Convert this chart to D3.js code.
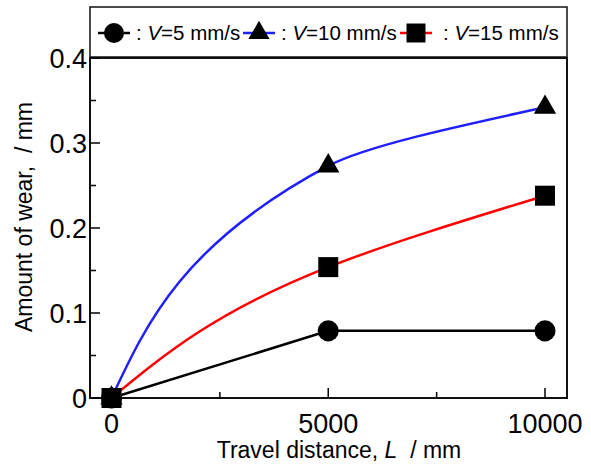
<!DOCTYPE html>
<html>
<head>
<meta charset="utf-8">
<script src="https://cdn.jsdelivr.net/npm/d3@7"></script>
<style>
  body { margin: 0; background: #fff; }
  svg { font-family: "Liberation Sans", Arial, sans-serif; }
  text { white-space: pre; }
</style>
</head>
<body>
<div id="chart"></div>
<script>
const distances = [0, 5000, 10000]
const seriesNames = ['5', '10', '15']
const wearV5 = [0, 0.079, 0.079]
const wearV10 = [0, 0.273, 0.342]
const wearV15 = [0, 0.154, 0.238]
const xTicks = [0, 5000, 10000]
const xMinorTicks = [2500, 7500]
const yTicks = [0, 0.1, 0.2, 0.3, 0.4]
const yMinorTicks = [0.05, 0.15, 0.25, 0.35]

const width = 591
const height = 464
const frame = { left: 90, right: 567, top: 58, bottom: 398 }

const svg = d3.select('#chart')
    .append('svg')
    .attr('width', width)
    .attr('height', height)

const xScale = d3.scaleLinear()
    .domain([0, 10000])
    .range([111.5, 545])

const yScale = d3.scaleLinear()
    .domain([0, 0.4])
    .range([frame.bottom, frame.top])

// smooth curves rise fast and flatten, so interpolate x as a function of y
const series = [
    { name: seriesNames[0], values: wearV5, color: '#000000', symbol: d3.symbolCircle, size: 350, curve: d3.curveLinear },
    { name: seriesNames[1], values: wearV10, color: '#1f1fff', symbol: d3.symbolTriangle, size: 215, curve: d3.curveMonotoneY },
    { name: seriesNames[2], values: wearV15, color: '#ff0000', symbol: d3.symbolSquare, size: 400, curve: d3.curveMonotoneY },
]

// frame
svg.append('rect')
    .attr('x', frame.left)
    .attr('y', frame.top)
    .attr('width', frame.right - frame.left)
    .attr('height', frame.bottom - frame.top)
    .attr('fill', 'none')
    .attr('stroke', '#111')
    .attr('stroke-width', 2)

// ticks (inward)
svg.selectAll('.ytick')
    .data(yTicks)
    .enter().append('line')
    .attr('x1', frame.left).attr('x2', frame.left + 10)
    .attr('y1', d => yScale(d)).attr('y2', d => yScale(d))
    .attr('stroke', '#000').attr('stroke-width', 1.5)

svg.selectAll('.yminor')
    .data(yMinorTicks)
    .enter().append('line')
    .attr('x1', frame.left).attr('x2', frame.left + 6)
    .attr('y1', d => yScale(d)).attr('y2', d => yScale(d))
    .attr('stroke', '#000').attr('stroke-width', 1.5)

svg.selectAll('.xtick')
    .data(xTicks)
    .enter().append('line')
    .attr('x1', d => xScale(d)).attr('x2', d => xScale(d))
    .attr('y1', frame.bottom).attr('y2', frame.bottom - 10)
    .attr('stroke', '#000').attr('stroke-width', 1.5)

svg.selectAll('.xminor')
    .data(xMinorTicks)
    .enter().append('line')
    .attr('x1', d => xScale(d)).attr('x2', d => xScale(d))
    .attr('y1', frame.bottom).attr('y2', frame.bottom - 6)
    .attr('stroke', '#000').attr('stroke-width', 1.5)

// tick labels
svg.selectAll('.ylabel')
    .data(yTicks)
    .enter().append('text')
    .attr('x', frame.left - 3)
    .attr('y', d => yScale(d) + 9.5)
    .attr('text-anchor', 'end')
    .attr('font-size', 27)
    .text(d => d === 0 ? '0' : d3.format('.1f')(d))

svg.selectAll('.xlabel')
    .data(xTicks)
    .enter().append('text')
    .attr('x', d => xScale(d))
    .attr('y', 433)
    .attr('text-anchor', 'middle')
    .attr('font-size', 27)
    .text(d => d)

// axis titles
const xTitle = svg.append('text')
    .attr('x', 339)
    .attr('y', 458)
    .attr('text-anchor', 'middle')
    .attr('font-size', 23)
xTitle.append('tspan').text('Travel distance, ')
xTitle.append('tspan').attr('font-style', 'italic').text('L')
xTitle.append('tspan').text('  / mm')

svg.append('text')
    .attr('transform', 'translate(32, 217) rotate(-90)')
    .attr('text-anchor', 'middle')
    .attr('font-size', 23)
    .text('Amount of wear,  / mm')

// lines
const lineGen = curve => d3.line()
    .x((d, i) => xScale(distances[i]))
    .y(d => yScale(d))
    .curve(curve)

svg.selectAll('.series-line')
    .data(series)
    .enter().append('path')
    .attr('d', d => lineGen(d.curve)(d.values))
    .attr('fill', 'none')
    .attr('stroke', d => d.color)
    .attr('stroke-width', 2.5)

// markers
series.forEach(s => {
    svg.selectAll(null)
        .data(s.values)
        .enter().append('path')
        .attr('transform', (d, i) => `translate(${xScale(distances[i])}, ${yScale(d)})`)
        .attr('d', d3.symbol().type(s.symbol).size(s.size))
        .attr('fill', '#000')
})

// legend
svg.append('rect')
    .attr('x', frame.left)
    .attr('y', 7)
    .attr('width', frame.right - frame.left)
    .attr('height', 50)
    .attr('fill', '#fff')
    .attr('stroke', '#111')
    .attr('stroke-width', 1.5)

const legendX = [114, 259, 416]
const legendY = 33
series.forEach((s, i) => {
    const g = svg.append('g')
        .attr('transform', `translate(${legendX[i]}, ${legendY})`)
    g.append('line')
        .attr('x1', -16).attr('x2', 16)
        .attr('stroke', s.color)
        .attr('stroke-width', 2.5)
    g.append('path')
        .attr('d', d3.symbol().type(s.symbol).size(s.size * 0.9))
        .attr('fill', '#000')
    const t = g.append('text')
        .attr('x', i === 2 ? 27 : 22)
        .attr('y', 7)
        .attr('font-size', 20.5)
    t.append('tspan').text(': ')
    t.append('tspan').attr('font-style', 'italic').text('V')
    t.append('tspan').text(`=${s.name} mm/s`)
})
</script>
</body>
</html>
